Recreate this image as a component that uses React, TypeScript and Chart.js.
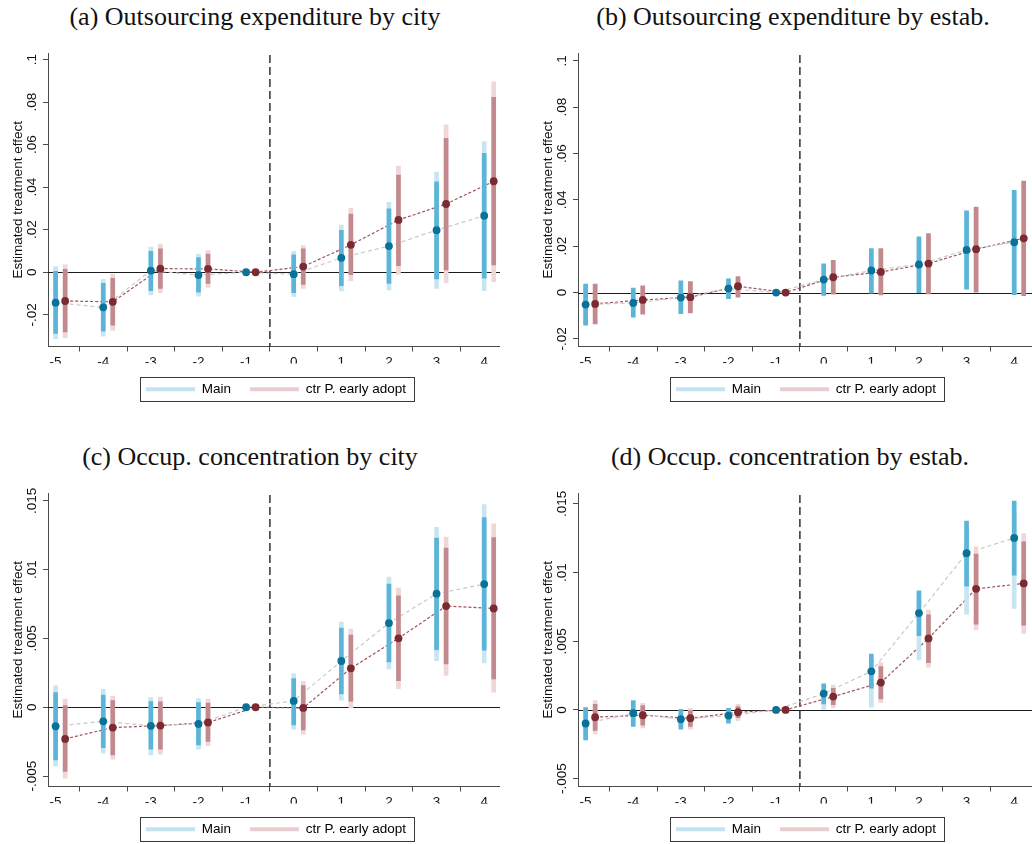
import { useEffect, useRef } from "react";
import { Chart, registerables } from "chart.js";

Chart.register(...registerables);

// ---- shared axis data ----
const periods = [-5, -4, -3, -2, -1, 0, 1, 2, 3, 4];
const periodLabels = ["-5", "-4", "-3", "-2", "-1", "0", "1", "2", "3", "4"];
const ctrShift = 0.2; // the "ctr P. early adopt" estimates sit just right of each period
const onsetLine = -0.5;
const xRange = [-5.16, 5.34];

const outsourcingTicks = [-0.02, 0, 0.02, 0.04, 0.06, 0.08, 0.1];
const outsourcingTickLabels = ["-.02", "0", ".02", ".04", ".06", ".08", ".1"];
const concentrationTicks = [-0.005, 0, 0.005, 0.01, 0.015];
const concentrationTickLabels = ["-.005", "0", ".005", ".01", ".015"];

// ---- (a) Outsourcing expenditure by city ----
const cityOutMainEst = [-0.0143, -0.0165, 0.0008, -0.0013, 0, -0.0009, 0.0068, 0.0123, 0.0198, 0.0266];
const cityOutMainLo = [-0.0288, -0.0277, -0.0087, -0.0094, null, -0.0096, -0.0063, -0.0052, -0.0031, -0.0028];
const cityOutMainHi = [0.0005, -0.0052, 0.0098, 0.0069, null, 0.0082, 0.0197, 0.0298, 0.0425, 0.0559];
const cityOutMainAltLo = [-0.0312, -0.0301, -0.0107, -0.0112, null, -0.0115, -0.0088, -0.0083, -0.0076, -0.0087];
const cityOutMainAltHi = [0.0027, -0.0033, 0.0118, 0.0085, null, 0.0098, 0.0222, 0.0329, 0.0471, 0.0614];
const cityOutCtrEst = [-0.0135, -0.0139, 0.0017, 0.0016, 0, 0.0027, 0.0129, 0.0246, 0.0321, 0.0428];
const cityOutCtrLo = [-0.028, -0.0249, -0.0076, -0.0052, null, -0.0057, -0.0011, 0.0031, 0.0011, 0.0035];
const cityOutCtrHi = [0.0014, -0.0028, 0.011, 0.0085, null, 0.011, 0.0274, 0.0457, 0.063, 0.0822];
const cityOutCtrAltLo = [-0.0307, -0.0272, -0.0096, -0.0071, null, -0.0076, -0.0039, -0.0009, -0.0049, -0.0044];
const cityOutCtrAltHi = [0.0035, -0.0008, 0.0132, 0.0102, null, 0.0126, 0.0301, 0.0499, 0.0693, 0.0896];

// ---- (b) Outsourcing expenditure by estab. ----
const estabOutMainEst = [-0.0052, -0.0045, -0.0022, 0.0017, 0, 0.0056, 0.0095, 0.0121, 0.0184, 0.0217];
const estabOutMainLo = [-0.0141, -0.0106, -0.0091, -0.0026, null, -0.0013, -0.0003, -0.0001, 0.0014, -0.0009];
const estabOutMainHi = [0.0036, 0.0019, 0.005, 0.0059, null, 0.0124, 0.019, 0.024, 0.0353, 0.0441];
const estabOutMainAltLo = [-0.0138, -0.0103, -0.0088, -0.0024, null, -0.001, 0.0, 0.0002, 0.0017, -0.0006];
const estabOutMainAltHi = [0.0033, 0.0016, 0.0046, 0.0056, null, 0.012, 0.0186, 0.0236, 0.0349, 0.0436];
const estabOutCtrEst = [-0.0049, -0.0032, -0.002, 0.0027, 0, 0.0066, 0.0089, 0.0125, 0.0187, 0.0234];
const estabOutCtrLo = [-0.0135, -0.0093, -0.0088, -0.002, null, -0.0007, -0.001, -0.0006, 0.0001, -0.0014];
const estabOutCtrHi = [0.0036, 0.0029, 0.0047, 0.0069, null, 0.0139, 0.019, 0.0254, 0.0369, 0.0481];
const estabOutCtrAltLo = [-0.0132, -0.009, -0.0085, -0.0017, null, -0.0004, -0.0007, -0.0003, 0.0004, -0.0011];
const estabOutCtrAltHi = [0.0033, 0.0026, 0.0044, 0.0066, null, 0.0135, 0.0186, 0.025, 0.0365, 0.0476];

// ---- (c) Occup. concentration by city ----
const cityConcMainEst = [-0.00138, -0.00102, -0.00135, -0.00121, 0, 0.00046, 0.00336, 0.00612, 0.00825, 0.00895];
const cityConcMainLo = [-0.00382, -0.00293, -0.00305, -0.00273, null, -0.00128, 0.00097, 0.00329, 0.00418, 0.00414];
const cityConcMainHi = [0.00106, 0.00089, 0.00041, 0.00034, null, 0.00208, 0.00576, 0.00895, 0.01229, 0.01378];
const cityConcMainAltLo = [-0.00426, -0.00334, -0.00346, -0.00305, null, -0.0016, 0.00051, 0.00278, 0.00339, 0.00322];
const cityConcMainAltHi = [0.00155, 0.00131, 0.0007, 0.00063, null, 0.00242, 0.00619, 0.00946, 0.01308, 0.01473];
const cityConcCtrEst = [-0.0023, -0.00148, -0.00133, -0.00111, 0, -0.00005, 0.00283, 0.00501, 0.00735, 0.00718];
const cityConcCtrLo = [-0.00467, -0.00346, -0.00305, -0.00249, null, -0.00164, 0.00044, 0.00193, 0.00314, 0.00206];
const cityConcCtrHi = [0.00012, 0.00048, 0.00039, 0.00031, null, 0.00157, 0.00525, 0.0081, 0.01156, 0.01233];
const cityConcCtrAltLo = [-0.00515, -0.00377, -0.00341, -0.0028, null, -0.00196, -0.00005, 0.00135, 0.00232, 0.00109];
const cityConcCtrAltHi = [0.0006, 0.00082, 0.00073, 0.0006, null, 0.00189, 0.00568, 0.00866, 0.01236, 0.01333];

// ---- (d) Occup. concentration by estab. ----
const estabConcMainEst = [-0.00099, -0.00024, -0.00068, -0.00041, 0, 0.00119, 0.00281, 0.00705, 0.01142, 0.01253];
const estabConcMainLo = [-0.00218, -0.00121, -0.00141, -0.00097, null, 0.00044, 0.00158, 0.00541, 0.00902, 0.00982];
const estabConcMainHi = [0.00017, 0.00068, 0.00005, 0.00012, null, 0.00189, 0.00407, 0.00868, 0.01375, 0.01522];
const estabConcMainAltLo = [-0.0021, -0.0011, -0.0013, -0.0009, null, 0.0, 0.00019, 0.00364, 0.00698, 0.00739];
const estabConcMainAltHi = [0.0001, 0.0006, 0.0, 0.0001, null, 0.0017, 0.0037, 0.0083, 0.013, 0.0145];
const estabConcCtrEst = [-0.00053, -0.00039, -0.00061, -0.00017, 0, 0.00097, 0.00199, 0.00521, 0.00882, 0.00921];
const estabConcCtrLo = [-0.0015, -0.00111, -0.00121, -0.00056, null, 0.00039, 0.0008, 0.00344, 0.00625, 0.00618];
const estabConcCtrHi = [0.00041, 0.00031, -0.00005, 0.00024, null, 0.00158, 0.00315, 0.00693, 0.01135, 0.01224];
const estabConcCtrAltLo = [-0.00175, -0.00131, -0.00141, -0.00078, null, 0.00017, 0.00053, 0.00311, 0.00582, 0.00558];
const estabConcCtrAltHi = [0.00068, 0.00048, 0.00012, 0.00041, null, 0.00179, 0.00344, 0.00727, 0.01188, 0.01285];

const seriesNames = ["Main", "ctr P. early adopt"];

// ---- styling ----
const AXIS_FONT = '"Liberation Sans", Arial, sans-serif';
const TITLE_FONT = '"Liberation Serif", "Times New Roman", serif';
const INK = "#111111";
const AXIS_COLOR = "#4a4a4a";

const MAIN = { point: "#0a7198", ci: "#5cb5d8", alt: "#c8e6f2", path: "#c9c9c9", legend: "#c3e3f1" };
const CTR = { point: "#7a2a30", ci: "#c28a8e", alt: "#efd6d8", path: "#9e545a", legend: "#e8cdd0" };

type Series = {
  est: number[];
  lo: (number | null)[];
  hi: (number | null)[];
  altLo: (number | null)[];
  altHi: (number | null)[];
};

type PanelSpec = {
  title: string;
  left: number;
  top: number;
  clipWidth: number;
  titleCenter: number;
  yMin: number;
  yMax: number;
  ticks: number[];
  tickLabels: string[];
  main: Series;
  ctr: Series;
};

const panels: PanelSpec[] = [
  {
    title: "(a) Outsourcing expenditure by city",
    left: 0, top: 0, clipWidth: 500, titleCenter: 255,
    yMin: -0.0349, yMax: 0.1031,
    ticks: outsourcingTicks, tickLabels: outsourcingTickLabels,
    main: { est: cityOutMainEst, lo: cityOutMainLo, hi: cityOutMainHi, altLo: cityOutMainAltLo, altHi: cityOutMainAltHi },
    ctr: { est: cityOutCtrEst, lo: cityOutCtrLo, hi: cityOutCtrHi, altLo: cityOutCtrAltLo, altHi: cityOutCtrAltHi },
  },
  {
    title: "(b) Outsourcing expenditure by estab.",
    left: 530, top: 0, clipWidth: 502, titleCenter: 263,
    yMin: -0.0233, yMax: 0.1034,
    ticks: outsourcingTicks, tickLabels: outsourcingTickLabels,
    main: { est: estabOutMainEst, lo: estabOutMainLo, hi: estabOutMainHi, altLo: estabOutMainAltLo, altHi: estabOutMainAltHi },
    ctr: { est: estabOutCtrEst, lo: estabOutCtrLo, hi: estabOutCtrHi, altLo: estabOutCtrAltLo, altHi: estabOutCtrAltHi },
  },
  {
    title: "(c) Occup. concentration by city",
    left: 0, top: 440, clipWidth: 500, titleCenter: 250,
    yMin: -0.00576, yMax: 0.01557,
    ticks: concentrationTicks, tickLabels: concentrationTickLabels,
    main: { est: cityConcMainEst, lo: cityConcMainLo, hi: cityConcMainHi, altLo: cityConcMainAltLo, altHi: cityConcMainAltHi },
    ctr: { est: cityConcCtrEst, lo: cityConcCtrLo, hi: cityConcCtrHi, altLo: cityConcCtrAltLo, altHi: cityConcCtrAltHi },
  },
  {
    title: "(d) Occup. concentration by estab.",
    left: 530, top: 440, clipWidth: 502, titleCenter: 260,
    yMin: -0.00558, yMax: 0.0158,
    ticks: concentrationTicks, tickLabels: concentrationTickLabels,
    main: { est: estabConcMainEst, lo: estabConcMainLo, hi: estabConcMainHi, altLo: estabConcMainAltLo, altHi: estabConcMainAltHi },
    ctr: { est: estabConcCtrEst, lo: estabConcCtrLo, hi: estabConcCtrHi, altLo: estabConcCtrAltLo, altHi: estabConcCtrAltHi },
  },
];

const CANVAS_W = 552;
const CANVAS_H = 406;

function points(est: number[], shift: number) {
  return periods.map((p, i) => ({ x: p + shift, y: est[i] }));
}

function spans(lo: (number | null)[], hi: (number | null)[], shift: number) {
  const out: { x: number; y: [number, number] }[] = [];
  periods.forEach((p, i) => {
    const a = lo[i];
    const b = hi[i];
    if (a !== null && b !== null) out.push({ x: p + shift, y: [a, b] });
  });
  return out;
}

// Draws the zero line, the treatment-onset marker, rotated y labels and the legend frame.
const panelMarks = {
  id: "panelMarks",
  beforeDatasetsDraw(chart: any, _args: any, opts: any) {
    const { ctx, chartArea, scales } = chart;
    const { left, right, top, bottom } = chartArea;
    ctx.save();
    const y0 = Math.round(scales.y.getPixelForValue(0)) + 0.5;
    ctx.strokeStyle = "#1c1c1c";
    ctx.lineWidth = 1.2;
    ctx.beginPath();
    ctx.moveTo(left, y0);
    ctx.lineTo(right, y0);
    ctx.stroke();
    const xo = scales.x.getPixelForValue(opts.onset);
    ctx.setLineDash([8, 4]);
    ctx.strokeStyle = "#222222";
    ctx.lineWidth = 1.4;
    ctx.beginPath();
    ctx.moveTo(xo, top + 2);
    ctx.lineTo(xo, bottom);
    ctx.stroke();
    ctx.restore();
  },
  afterDraw(chart: any, _args: any, opts: any) {
    const { ctx, scales } = chart;
    const yScale = scales.y;
    ctx.save();
    ctx.font = `13.5px ${AXIS_FONT}`;
    ctx.fillStyle = INK;
    ctx.textAlign = "center";
    ctx.textBaseline = "middle";
    yScale.ticks.forEach((t: any, i: number) => {
      const py = yScale.getPixelForValue(t.value);
      ctx.save();
      ctx.translate(yScale.right - 16, py);
      ctx.rotate(-Math.PI / 2);
      ctx.fillText(opts.tickLabels[i], 0, 0);
      ctx.restore();
    });
    const boxes = chart.legend && chart.legend.legendHitBoxes;
    if (boxes && boxes.length) {
      const first = boxes[0];
      const last = boxes[boxes.length - 1];
      const cy = first.top + first.height / 2;
      const l = Math.round(first.left - 6) + 0.5;
      const r = Math.round(last.left + last.width + 8) + 0.5;
      const t = Math.round(cy - 12) + 0.5;
      const b = Math.round(cy + 12) + 0.5;
      ctx.strokeStyle = "#3a3a3a";
      ctx.lineWidth = 1;
      ctx.strokeRect(l, t, r - l, b - t);
    }
    ctx.restore();
  },
};

function buildConfig(spec: PanelSpec): any {
  const bar = (lo: any, hi: any, shift: number, color: string, order: number) => ({
    type: "bar",
    data: spans(lo, hi, shift),
    backgroundColor: color,
    borderWidth: 0,
    barThickness: 4,
    maxBarThickness: 4,
    grouped: false,
    order,
  });
  return {
    type: "scatter",
    data: {
      datasets: [
        {
          type: "line",
          data: points(spec.main.est, 0),
          borderColor: MAIN.path,
          borderWidth: 1.2,
          borderDash: [4, 3],
          pointRadius: 0,
          fill: false,
          order: 10,
        },
        {
          type: "line",
          data: points(spec.ctr.est, ctrShift),
          borderColor: CTR.path,
          borderWidth: 1.2,
          borderDash: [3, 2],
          pointRadius: 0,
          fill: false,
          order: 10,
        },
        bar(spec.main.altLo, spec.main.altHi, 0, MAIN.alt, 8),
        bar(spec.ctr.altLo, spec.ctr.altHi, ctrShift, CTR.alt, 8),
        bar(spec.main.lo, spec.main.hi, 0, MAIN.ci, 6),
        bar(spec.ctr.lo, spec.ctr.hi, ctrShift, CTR.ci, 6),
        {
          type: "scatter",
          data: points(spec.main.est, 0),
          pointRadius: 3.9,
          pointBackgroundColor: MAIN.point,
          pointBorderWidth: 0,
          order: 1,
        },
        {
          type: "scatter",
          data: points(spec.ctr.est, ctrShift),
          pointRadius: 3.9,
          pointBackgroundColor: CTR.point,
          pointBorderWidth: 0,
          order: 1,
        },
      ],
    },
    options: {
      animation: false,
      responsive: false,
      maintainAspectRatio: false,
      events: [],
      layout: { padding: { top: 53, left: 0, right: 0, bottom: 0 } },
      scales: {
        x: {
          type: "linear",
          min: xRange[0],
          max: xRange[1],
          offset: false,
          afterBuildTicks: (scale: any) => {
            scale.ticks = periods.map((v) => ({ value: v }));
          },
          afterFit: (scale: any) => {
            scale.height = 17;
          },
          ticks: {
            autoSkip: false,
            maxRotation: 0,
            minRotation: 0,
            padding: 3,
            color: INK,
            font: { family: AXIS_FONT, size: 13.5 },
            callback: (v: number) => {
              const i = periods.indexOf(v);
              return i >= 0 ? periodLabels[i] : "";
            },
          },
          grid: { display: true, drawOnChartArea: false, drawTicks: true, tickLength: 5, color: AXIS_COLOR, lineWidth: 1 },
          border: { display: true, color: AXIS_COLOR, width: 1 },
        },
        y: {
          type: "linear",
          min: spec.yMin,
          max: spec.yMax,
          afterBuildTicks: (scale: any) => {
            scale.ticks = spec.ticks.map((v) => ({ value: v }));
          },
          afterFit: (scale: any) => {
            scale.width = 48;
          },
          ticks: { display: false },
          grid: { display: true, drawOnChartArea: false, drawTicks: true, tickLength: 5, color: AXIS_COLOR, lineWidth: 1 },
          border: { display: true, color: AXIS_COLOR, width: 1 },
          title: {
            display: true,
            text: "Estimated treatment effect",
            color: INK,
            font: { family: AXIS_FONT, size: 13.5 },
            padding: { top: 10, bottom: 0 },
          },
        },
      },
      plugins: {
        tooltip: { enabled: false },
        title: { display: false },
        legend: {
          display: true,
          position: "bottom",
          align: "center",
          labels: {
            usePointStyle: true,
            pointStyleWidth: 49,
            boxHeight: 13,
            padding: 19,
            color: INK,
            font: { family: AXIS_FONT, size: 13.5 },
            generateLabels: () => [
              { text: seriesNames[0], pointStyle: "line", strokeStyle: MAIN.legend, fillStyle: MAIN.legend, lineWidth: 4, hidden: false, datasetIndex: 0 },
              { text: seriesNames[1], pointStyle: "line", strokeStyle: CTR.legend, fillStyle: CTR.legend, lineWidth: 4, hidden: false, datasetIndex: 1 },
            ],
          },
        },
        panelMarks: { onset: onsetLine, tickLabels: spec.tickLabels },
      },
    },
    plugins: [panelMarks],
  };
}

function EventStudyPanel({ spec }: { spec: PanelSpec }) {
  const canvasRef = useRef<HTMLCanvasElement | null>(null);

  useEffect(() => {
    if (!canvasRef.current) return;
    const chart = new Chart(canvasRef.current, buildConfig(spec));
    return () => chart.destroy();
  }, [spec]);

  return (
    <>
      <div
        style={{
          position: "absolute",
          left: spec.left + spec.titleCenter - 260,
          top: spec.top + 1,
          width: 520,
          textAlign: "center",
          fontFamily: TITLE_FONT,
          fontSize: 26,
          lineHeight: "32px",
          color: INK,
          whiteSpace: "nowrap",
        }}
      >
        {spec.title}
      </div>
      <div
        style={{
          position: "absolute",
          left: spec.left,
          top: spec.top,
          width: spec.clipWidth,
          height: CANVAS_H,
          overflow: "hidden",
        }}
      >
        <canvas
          ref={canvasRef}
          width={CANVAS_W}
          height={CANVAS_H}
          style={{ position: "absolute", left: 0, top: 0, width: CANVAS_W, height: CANVAS_H }}
        />
      </div>
    </>
  );
}

export default function App() {
  return (
    <div
      style={{
        position: "absolute",
        left: 0,
        top: 0,
        width: 1032,
        height: 844,
        overflow: "hidden",
        background: "#ffffff",
      }}
    >
      {panels.map((p) => (
        <EventStudyPanel key={p.title} spec={p} />
      ))}
    </div>
  );
}
